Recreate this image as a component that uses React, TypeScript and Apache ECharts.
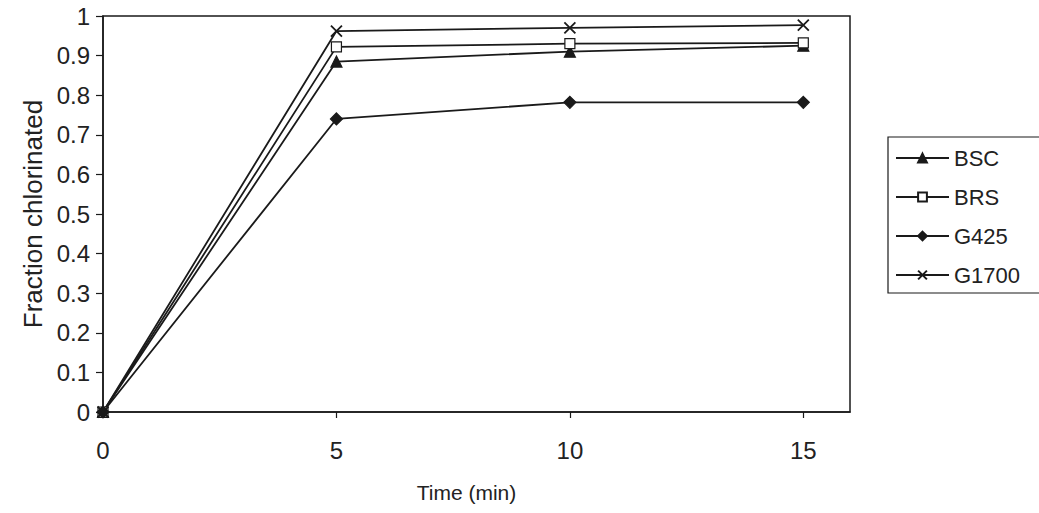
import React, { useEffect, useRef } from "react";
import * as echarts from "echarts";

const times = [0, 5, 10, 15];
const seriesNames = ["BSC", "BRS", "G425", "G1700"];
const bsc = [0, 0.885, 0.91, 0.925];
const brs = [0, 0.922, 0.93, 0.932];
const g425 = [0, 0.74, 0.782, 0.782];
const g1700 = [0, 0.962, 0.97, 0.977];
const yTicks = [0, 0.1, 0.2, 0.3, 0.4, 0.5, 0.6, 0.7, 0.8, 0.9, 1];

const FONT = "'Liberation Sans', Arial, sans-serif";
const INK = "#1a1a1a";
const TXT = "#222";
const CROSS = "path://M0,0 L10,10 M10,0 L0,10";

export default function App() {
  const ref = useRef<HTMLDivElement>(null);
  useEffect(() => {
    if (!ref.current) return;
    const chart = echarts.init(ref.current, undefined, { renderer: "svg" });
    const mk = (name: string, vals: number[], symbol: string, size: number, fill: string) => ({
      name,
      type: "line",
      data: times.map((t, i) => [t, vals[i]]),
      symbol,
      symbolSize: size,
      showSymbol: true,
      lineStyle: { color: INK, width: 1.8 },
      itemStyle: { color: fill, borderColor: INK, borderWidth: symbol === CROSS ? 1.8 : 1.2 },
      emphasis: { disabled: true },
      z: 3,
    });
    chart.setOption({
      animation: false,
      backgroundColor: "#fff",
      textStyle: { fontFamily: FONT, color: TXT },
      grid: {
        left: 103,
        right: 189,
        top: 16,
        bottom: 101,
        show: true,
        borderColor: INK,
        borderWidth: 1.5,
        backgroundColor: "transparent",
      },
      legend: {
        orient: "vertical",
        left: 888,
        top: 137,
        data: seriesNames,
        itemWidth: 53,
        itemHeight: 11,
        itemGap: 17,
        padding: [10, 50, 7, 7],
        borderColor: INK,
        borderWidth: 1.2,
        backgroundColor: "#fff",
        textStyle: { fontFamily: FONT, fontSize: 22, color: TXT, lineHeight: 22 },
      },
      xAxis: {
        type: "value",
        min: 0,
        max: 16,
        interval: 5,
        name: "Time (min)",
        nameLocation: "middle",
        nameGap: 70,
        nameTextStyle: { fontSize: 21, color: TXT, fontFamily: FONT, padding: [0, 20, 0, 0] },
        axisLine: { show: true, lineStyle: { color: INK, width: 1.5 } },
        axisTick: { show: true, length: 6, inside: false, lineStyle: { color: INK, width: 1.2 } },
        axisLabel: { fontSize: 24, color: TXT, fontFamily: FONT, margin: 26, showMaxLabel: false },
        splitLine: { show: false },
      },
      yAxis: {
        type: "value",
        min: 0,
        max: 1,
        interval: 0.1,
        name: "Fraction chlorinated",
        nameLocation: "middle",
        nameGap: 51,
        nameRotate: 90,
        nameTextStyle: { fontSize: 26, color: TXT, fontFamily: FONT },
        axisLine: { show: true, lineStyle: { color: INK, width: 1.5 } },
        axisTick: { show: true, length: 7, inside: false, lineStyle: { color: INK, width: 1.2 } },
        axisLabel: {
          fontSize: 24,
          color: TXT,
          fontFamily: FONT,
          margin: 13,
          formatter: (v: number) => {
            const t = yTicks.find((k) => Math.abs(k - v) < 1e-6);
            return t === undefined ? "" : String(t);
          },
        },
        splitLine: { show: false },
      },
      series: [
        mk("BSC", bsc, "triangle", 11, INK),
        mk("BRS", brs, "rect", 10, "#fff"),
        mk("G425", g425, "diamond", 12, INK),
        mk("G1700", g1700, CROSS, 11, "none"),
      ],
    });
    return () => chart.dispose();
  }, []);
  return (
    <div
      ref={ref}
      style={{ position: "fixed", left: 0, top: 0, width: 1039, height: 513, background: "#fff" }}
    />
  );
}
